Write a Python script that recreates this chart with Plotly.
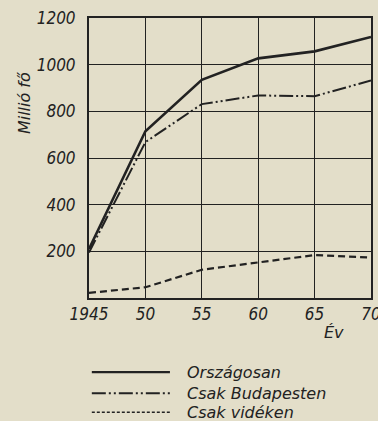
import plotly.graph_objects as go

# Annual values, million Ft
years = [1945, 1950, 1955, 1960, 1965, 1970]
orszagosan = [210, 715, 935, 1027, 1057, 1119]
budapesten = [195, 668, 831, 868, 865, 932]
videken = [22, 46, 121, 154, 184, 173]

x_tick_labels = ["1945", "50", "55", "60", "65", "70"]
y_ticks = [200, 400, 600, 800, 1000, 1200]

series_names = ["Országosan", "Csak Budapesten", "Csak vidéken"]

PAPER = "#e3dec9"
INK = "#222222"
FONT = dict(family="Liberation Sans Narrow, DejaVu Sans Condensed, Liberation Sans",
            size=17, color=INK, style="italic")
TEXT_FONT = dict(family="DejaVu Sans", size=16, color=INK, style="italic")

line_styles = [
    dict(color=INK, width=2.6, dash="solid"),
    dict(color=INK, width=2.0, dash="14px,3px,2px,3px,2px,3px"),
    dict(color=INK, width=2.2, dash="7px,4px"),
]

fig = go.Figure()
for name, vals, style in zip(series_names, [orszagosan, budapesten, videken], line_styles):
    fig.add_trace(go.Scatter(x=years, y=vals, mode="lines", name=name,
                             line=style, cliponaxis=False, showlegend=False))

fig.update_layout(
    width=378, height=421,
    margin=dict(l=89, r=7, t=18, b=123),
    paper_bgcolor=PAPER, plot_bgcolor=PAPER,
    font=FONT,
)
fig.update_xaxes(
    range=[1945, 1970], tickvals=years, ticktext=x_tick_labels,
    showgrid=True, gridcolor=INK, gridwidth=1,
    showline=True, linecolor=INK, linewidth=2, mirror=True,
    zeroline=False, ticks="", ticklabelstandoff=0, tickfont=FONT,
    ticklabeloverflow="allow", automargin=False,
)
fig.update_yaxes(
    range=[0, 1200], tickvals=y_ticks,
    showgrid=True, gridcolor=INK, gridwidth=1,
    showline=True, linecolor=INK, linewidth=2, mirror=True,
    zeroline=False, ticks="", ticklabelstandoff=8, tickfont=FONT,
    ticklabeloverflow="allow", automargin=False,
)

# Axis captions
fig.add_annotation(text="Millió fő", xref="paper", yref="paper",
                   x=-0.228, y=0.695, xanchor="center", yanchor="middle",
                   textangle=-90, showarrow=False, font=TEXT_FONT)
fig.add_annotation(text="Év", xref="paper", yref="paper",
                   x=0.87, y=-0.122, xanchor="center", yanchor="middle",
                   showarrow=False, font=TEXT_FONT)

# Legend drawn below the chart with long line samples
legend_rows = [-0.265, -0.34, -0.408]
sample_dash = ["solid", "14px,3px,2px,3px,2px,3px", "3px,2px"]
sample_width = [2.2, 2.0, 1.6]
for name, yrow, dash, w in zip(series_names, legend_rows, sample_dash, sample_width):
    fig.add_shape(type="line", xref="paper", yref="paper",
                  x0=0.01, x1=0.287, y0=yrow, y1=yrow,
                  line=dict(color=INK, width=w, dash=dash))
    fig.add_annotation(text=name, xref="paper", yref="paper",
                       x=0.34, y=yrow, xanchor="left", yanchor="middle",
                       showarrow=False, font=TEXT_FONT)

fig.write_html("out.html")
